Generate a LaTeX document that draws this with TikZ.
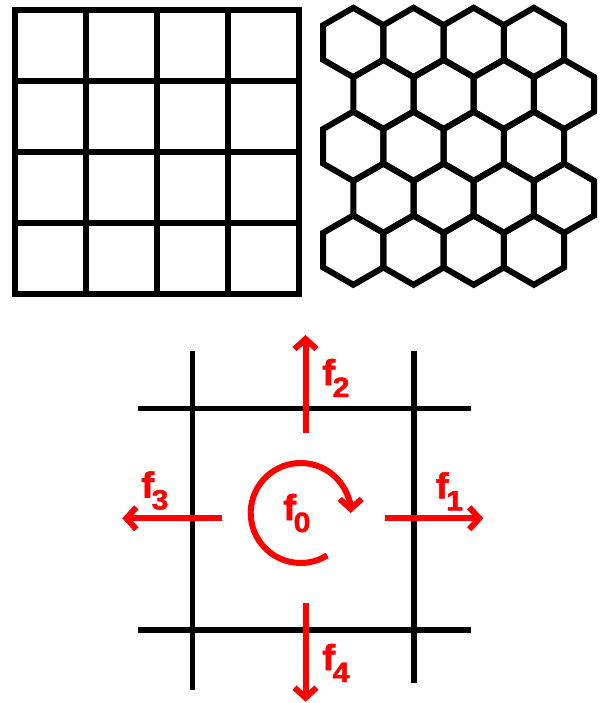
\documentclass[tikz,border=0pt]{standalone}
\usepackage{fontspec}
\setmainfont{Liberation Sans}
\newfontfamily\labfont[BoldFeatures={FakeBold=1.5,FakeStretch=1.08}]{Liberation Sans}
\usetikzlibrary{arrows.meta}
\definecolor{fred}{RGB}{255,0,0}
\newcommand{\flab}[1]{{\labfont\bfseries\fontsize{36}{36}\selectfont f\kern-2.5pt\raisebox{-12pt}{\fontsize{28}{28}\selectfont #1}}}
\tikzset{
  gridline/.style={line width=6pt, black},
  hexline/.style={line width=6pt, black, line join=miter},
  frameline/.style={line width=5.5pt, black},
  flow/.style={line width=6pt, fred, -{Straight Barb[length=10pt,width=22pt]}},
  flabel/.style={anchor=base west, inner sep=0pt, text=fred},
}
\begin{document}
\begin{tikzpicture}[x=1pt,y=-1pt]
\useasboundingbox (0,0) rectangle (604,703);
% square grid
\draw[gridline] (14.5,9.7) rectangle (299,293.5);
\foreach \k in {1,2,3} {
  \draw[gridline] ({14.5+71.1*\k},9.7) -- ({14.5+71.1*\k},293.5);
  \draw[gridline] (14.5,{9.7+70.95*\k}) -- (299,{9.7+70.95*\k});
}
% hexagonal grid
\foreach \r in {0,...,4} {
  \foreach \c in {0,...,3} {
    \pgfmathsetmacro\cx{353.3+60.2*\c+30.1*mod(\r,2)}
    \pgfmathsetmacro\cy{42.5+51.9*\r}
    \draw[hexline] (\cx,\cy) +(0,-34.7) -- +(30.1,-17.35) -- +(30.1,17.35)
      -- +(0,34.7) -- +(-30.1,17.35) -- +(-30.1,-17.35) -- cycle;
  }
}
% cell frame
\coordinate (vlT) at (192.7,350.7);
\coordinate (vlB) at (192.7,690);
\coordinate (vrT) at (414,350.7);
\coordinate (vrB) at (414,683.3);
\coordinate (htL) at (138.3,408.7);
\coordinate (htR) at (471,408.7);
\coordinate (hbL) at (138.3,630);
\coordinate (hbR) at (471,630);
\draw[frameline] (vlT) -- (vlB);
\draw[frameline] (vrT) -- (vrB);
\draw[frameline] (htL) -- (htR);
\draw[frameline] (hbL) -- (hbR);
% fluxes
\coordinate (a2s) at (305.5,433.3);
\coordinate (a2e) at (305.5,335);
\coordinate (a4s) at (305.5,603.3);
\coordinate (a4e) at (305.5,701.7);
\coordinate (a3s) at (221.7,518.3);
\coordinate (a3e) at (122.3,518.3);
\coordinate (a1s) at (385,518.3);
\coordinate (a1e) at (483.3,518.3);
\draw[flow] (a2s) -- (a2e);
\draw[flow] (a4s) -- (a4e);
\draw[flow] (a3s) -- (a3e);
\draw[flow] (a1s) -- (a1e);
% rotation
\coordinate (rc) at (300.7,513);
\draw[flow] (rc) ++(58:50) arc[start angle=58, end angle=360, radius=50];
% labels
\node[flabel] (l2) at (322,385) {\flab{2}};
\node[flabel] (l1) at (435.5,498.3) {\flab{1}};
\node[flabel] (l3) at (141,497.5) {\flab{3}};
\node[flabel] (l4) at (322,670) {\flab{4}};
\node[flabel] (l0) at (283,520) {\flab{0}};
\end{tikzpicture}
\end{document}
